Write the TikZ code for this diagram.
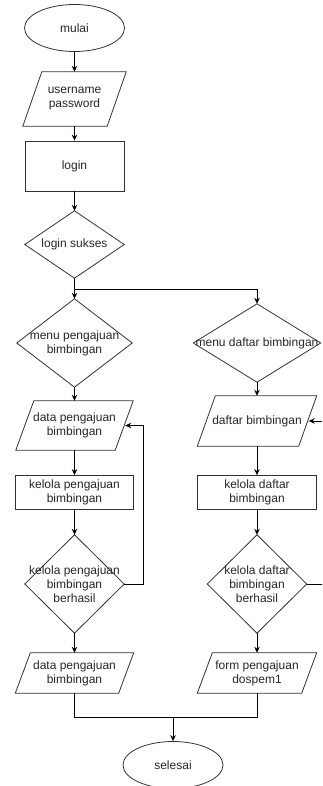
\documentclass[tikz,border=0pt]{standalone}
\usepackage{fontspec}
\setmainfont{Liberation Sans}
\usetikzlibrary{shapes.geometric,arrows.meta}
\tikzset{
  base/.style={inner sep=0pt, align=center, font=\fontsize{12}{14}\selectfont, text=black!85},
  term/.style={base, ellipse, draw=black!80, line width=0.8pt, minimum width=100pt, minimum height=47pt},
  proc/.style={base, rectangle, draw=black!80, line width=0.8pt},
  box/.style={base, rectangle, draw=none},
  outl/.style={draw=black!80, line width=0.8pt},
  conn/.style={draw=black, line width=0.9pt},
  arr/.style={conn, -{Stealth[length=6pt,width=5.5pt]}}
}
\newcommand{\paraoutline}[2]{\draw[outl] ([xshift=#2]#1.north west) -- (#1.north east) -- ([xshift=-#2]#1.south east) -- (#1.south west) -- cycle;}
\newcommand{\diaoutline}[1]{\draw[outl] (#1.north) -- (#1.east) -- (#1.south) -- (#1.west) -- cycle;}
\begin{document}
\begin{tikzpicture}[x=1pt,y=-1pt]
\useasboundingbox (0,0) rectangle (322,786);
\clip (0,0) rectangle (322,786);
% left column
\node[term] (mulai) at (74.5,28) {mulai};
\node[box, minimum width=103pt, minimum height=54pt] (user) at (74.5,99) {username\\password};
\node[proc, minimum width=99pt, minimum height=50pt] (login) at (74.5,166) {login};
\node[box, minimum width=99pt, minimum height=67pt] (sukses) at (74.5,244.5) {login sukses};
\node[box, minimum width=115pt, minimum height=88pt] (menu1) at (74.5,343) {menu pengajuan\\bimbingan};
\node[box, minimum width=117pt, minimum height=49pt] (data1) at (74.5,425.5) {data pengajuan\\bimbingan};
\node[proc, minimum width=118pt, minimum height=34pt] (kelola1) at (74.5,492.5) {kelola pengajuan\\bimbingan};
\node[box, minimum width=99pt, minimum height=98pt] (hasil1) at (74.5,584) {kelola pengajuan\\bimbingan\\berhasil};
\node[box, minimum width=118pt, minimum height=40pt] (out1) at (74.5,673) {data pengajuan\\bimbingan};
% right column
\node[box, minimum width=127pt, minimum height=78pt] (menu2) at (257,343) {menu daftar bimbingan};
\node[box, minimum width=119pt, minimum height=50pt] (daftar) at (257,421) {daftar bimbingan};
\node[proc, minimum width=119pt, minimum height=34pt] (kelola2) at (257,492.5) {kelola daftar\\bimbingan};
\node[box, minimum width=99pt, minimum height=98pt] (hasil2) at (257,584) {kelola daftar\\bimbingan\\berhasil};
\node[box, minimum width=119pt, minimum height=40pt] (form) at (257,673) {form pengajuan\\dospem1};
\node[term] (selesai) at (173,765) {selesai};
% outlines
\paraoutline{user}{19pt}
\diaoutline{sukses}
\diaoutline{menu1}
\paraoutline{data1}{18pt}
\diaoutline{hasil1}
\paraoutline{out1}{15pt}
\diaoutline{menu2}
\paraoutline{daftar}{18pt}
\diaoutline{hasil2}
\paraoutline{form}{15pt}
% helper coordinates
\coordinate (j1) at (74.5,289);
\coordinate (j2) at (173,717);
\coordinate (lp) at (143,0);
\coordinate (rp) at (335,0);
% connectors
\draw[arr] (mulai.south) -- (user.north);
\draw[arr] (user.south) -- (login.north);
\draw[arr] (login.south) -- (sukses.north);
\draw[arr] (sukses.south) -- (menu1.north);
\draw[arr] (j1) -| (menu2.north);
\draw[arr] (menu1.south) -- (data1.north);
\draw[arr] (data1.south) -- (kelola1.north);
\draw[arr] (kelola1.south) -- (hasil1.north);
\draw[arr] (hasil1.south) -- (out1.north);
\draw[arr] (hasil1.east) -- (lp |- hasil1.east) -- (lp |- data1.east) -- ([xshift=-8pt]data1.east);
\draw[arr] (menu2.south) -- (daftar.north);
\draw[arr] (daftar.south) -- (kelola2.north);
\draw[arr] (kelola2.south) -- (hasil2.north);
\draw[arr] (hasil2.south) -- (form.north);
\draw[arr] (hasil2.east) -- (rp |- hasil2.east) -- (rp |- daftar.east) -- ([xshift=-8pt]daftar.east);
\draw[conn] (out1.south) -- (out1.south |- j2) -- (form.south |- j2) -- (form.south);
\draw[arr] (j2) -- (selesai.north);
\end{tikzpicture}
\end{document}
